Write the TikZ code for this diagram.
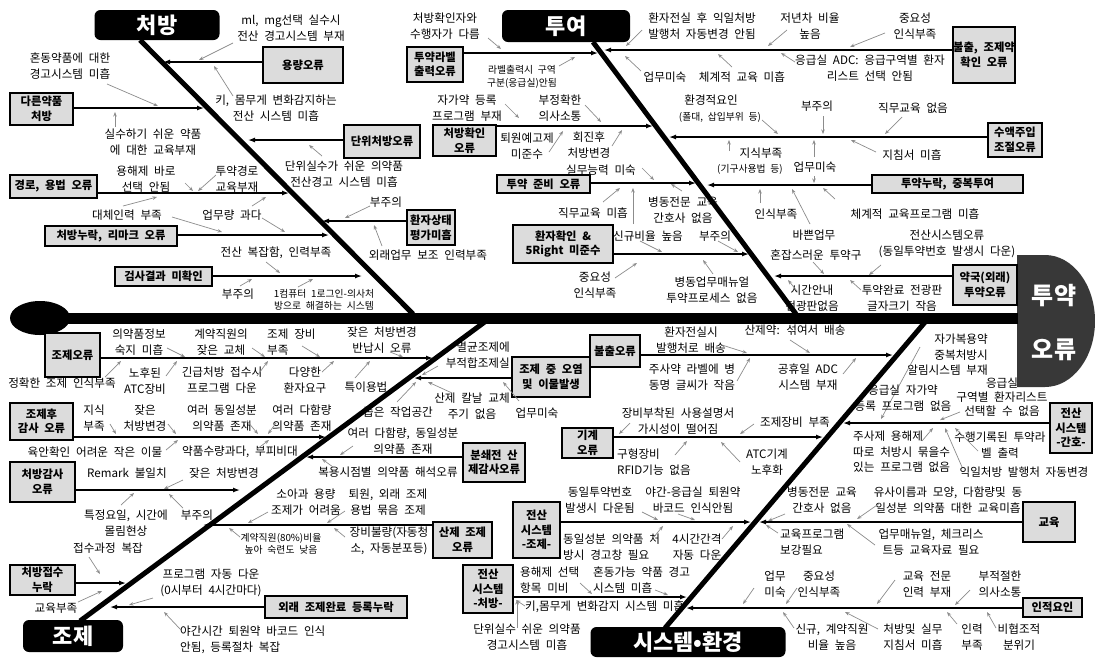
\documentclass[tikz,border=0pt]{standalone}
\usepackage{fontspec}
\setmainfont{Noto Sans CJK KR}[WordSpace=2.2]
\usetikzlibrary{arrows.meta}
\definecolor{boxgray}{HTML}{DCDCDC}
\definecolor{headgray}{HTML}{383838}
\definecolor{arrgray}{HTML}{8C8C8C}
\tikzset{
  cat/.style={fill=black, rounded corners=6pt, text=white, font=\fontsize{22}{22}\selectfont\bfseries, inner sep=0pt},
  sbox/.style={draw=black, line width=1.7pt, fill=boxgray, font=\fontsize{11.3}{14.5}\selectfont\bfseries, align=center, inner sep=0pt},
  lab/.style={align=center, font=\fontsize{11.6}{15.5}\selectfont, inner sep=0pt},
  slab/.style={align=center, font=\fontsize{9.8}{12.5}\selectfont, inner sep=0pt},
  bigbone/.style={line width=5pt},
  bone/.style={line width=1.3pt, -{Latex[length=7pt,width=5pt]}},
  ga/.style={draw=arrgray, line width=0.7pt, -{Stealth[length=4.5pt,width=3.5pt]}},
}
\begin{document}
\begin{tikzpicture}[x=1pt,y=-1pt]
\useasboundingbox[fill=white] (0,0) rectangle (1095,657);

% ---------- spine, tail, head
\fill (40,318) ellipse [x radius=30pt, y radius=17pt];
\coordinate (tail) at (45,318);
\fill[headgray] (1017,255) -- (1045,255) arc[start angle=90,end angle=-90,x radius=50pt,y radius=66pt] -- (1017,387) -- cycle;
\coordinate (headW) at (1018,318);
\draw[line width=11pt] (tail) -- (headW);
\node[font=\fontsize{24}{24}\selectfont\bfseries, text=white] (h1) at (1054,296) {투약};
\node[font=\fontsize{24}{24}\selectfont\bfseries, text=white] (h2) at (1054,350) {오류};

% ---------- main bones
\coordinate (cpS) at (140,40); \coordinate (cpE) at (413,314);
\coordinate (tyS) at (593,42); \coordinate (tyE) at (796,314);
\coordinate (jjS) at (80,621); \coordinate (jjE) at (486,321);
\coordinate (seS) at (665,628); \coordinate (seE) at (926,321);
\draw[bigbone] (cpS) -- (cpE);
\draw[bigbone] (tyS) -- (tyE);
\draw[bigbone] (jjS) -- (jjE);
\draw[bigbone] (seS) -- (seE);

\node[cat, minimum width=125pt, minimum height=30pt] (cp) at (157,25) {처방};
\node[cat, minimum width=128pt, minimum height=32pt] (ty) at (566,26) {투여};
\node[cat, minimum width=100pt, minimum height=32pt] (jj) at (73,636) {조제};
\node[cat, minimum width=195pt, minimum height=30pt] (se) at (688,642) {시스템•환경};

% ---------- minor bones: coordinates
\coordinate (t1) at (163,62);
\coordinate (t2) at (204,108);
\coordinate (t3) at (248,140);
\coordinate (t4) at (289,193);
\coordinate (t5) at (329,235);
\coordinate (t6) at (322,221);
\coordinate (t7) at (362,276);
\coordinate (t8) at (598,53);
\coordinate (t9) at (653,126);
\coordinate (t10) at (696,183);
\coordinate (t11) at (749,254);
\coordinate (t12) at (604,50);
\coordinate (t13) at (669,137);
\coordinate (t14) at (707,185);
\coordinate (t15) at (774,276);
\coordinate (t16) at (433,358);
\coordinate (t17) at (414,378);
\coordinate (t18) at (893,355);
\coordinate (t19) at (326,437);
\coordinate (t20) at (306,457);
\coordinate (t21) at (240,490);
\coordinate (t22) at (203,525);
\coordinate (t23) at (126,583);
\coordinate (t24) at (110,607);
\coordinate (t25) at (823,437);
\coordinate (t26) at (843,423);
\coordinate (t27) at (751,522);
\coordinate (t28) at (759,522);
\coordinate (t29) at (687,597);
\coordinate (t30) at (686,608);

% ---------- boxes
\node[sbox,minimum width=80pt,minimum height=36pt] (b1) at (303,65) {용량오류};
\node[sbox,minimum width=63pt,minimum height=32pt] (b2) at (41.5,109) {다른약품\\처방};
\node[sbox,minimum width=76pt,minimum height=33pt] (b3) at (382,141.5) {단위처방오류};
\node[sbox,minimum width=87pt,minimum height=23pt] (b4) at (53.5,186.5) {경로, 용법 오류};
\node[sbox,minimum width=132pt,minimum height=20pt] (b5) at (111,236) {처방누락, 리마크 오류};
\node[sbox,minimum width=48pt,minimum height=35pt] (b6) at (431,227.5) {환자상태\\평가미흡};
\node[sbox,minimum width=97pt,minimum height=19pt] (b7) at (163.5,276.5) {검사결과 미확인};
\node[sbox,minimum width=56pt,minimum height=35pt] (b8) at (435,64.5) {투약라벨\\출력오류};
\node[sbox,minimum width=63pt,minimum height=31pt] (b9) at (464.5,140.5) {처방확인\\오류};
\node[sbox,minimum width=93pt,minimum height=18pt] (b10) at (543.5,184) {투약 준비 오류};
\node[sbox,minimum width=100pt,minimum height=38pt] (b11) at (563,244) {환자확인 \&\\5Right 미준수};
\node[sbox,minimum width=62pt,minimum height=56pt] (b12) at (984,55) {불출, 조제약\\확인 오류};
\node[sbox,minimum width=54pt,minimum height=34pt] (b13) at (1015,140) {수액주입\\조절오류};
\node[sbox,minimum width=151pt,minimum height=18pt] (b14) at (947.5,184) {투약누락, 중복투여};
\node[sbox,minimum width=64pt,minimum height=40pt] (b15) at (985,285) {약국(외래)\\투약오류};
\node[sbox,minimum width=55pt,minimum height=44pt] (b16) at (72.5,355) {조제오류};
\node[sbox,minimum width=78pt,minimum height=40pt] (b17) at (551,377) {조제 중 오염\\및 이물발생};
\node[sbox,minimum width=50pt,minimum height=32pt] (b18) at (615,351) {불출오류};
\node[sbox,minimum width=63pt,minimum height=37pt] (b19) at (41.5,421.5) {조제후\\감사 오류};
\node[sbox,minimum width=62pt,minimum height=39pt] (b20) at (494,462.5) {분쇄전 산\\제감사오류};
\node[sbox,minimum width=65pt,minimum height=40pt] (b21) at (42.5,482) {처방감사\\오류};
\node[sbox,minimum width=59pt,minimum height=36pt] (b22) at (462.5,540) {산제 조제\\오류};
\node[sbox,minimum width=65pt,minimum height=30pt] (b23) at (42.5,580) {처방접수\\누락};
\node[sbox,minimum width=142pt,minimum height=22pt] (b24) at (336,607) {외래 조제완료 등록누락};
\node[sbox,minimum width=51pt,minimum height=30pt] (b25) at (587.5,443) {기계\\오류};
\node[sbox,minimum width=42pt,minimum height=50pt] (b26) at (1071,428) {전산\\시스템\\-간호-};
\node[sbox,minimum width=47pt,minimum height=56pt] (b27) at (536.5,530) {전산\\시스템\\-조제-};
\node[sbox,minimum width=52pt,minimum height=40pt] (b28) at (1049,522) {교육};
\node[sbox,minimum width=50pt,minimum height=48pt] (b29) at (488,589) {전산\\시스템\\-처방-};
\node[sbox,minimum width=59pt,minimum height=19pt] (b30) at (1052.5,607.5) {인적요인};

% ---------- minor bones
\draw[bone] (b1.west|-t1) -- (t1);
\draw[bone] (b2.east|-t2) -- (t2);
\draw[bone] (b3.west|-t3) -- (t3);
\draw[bone] (b4.east|-t4) -- (t4);
\draw[bone] (b5.east|-t5) -- (t5);
\draw[bone] (b6.west|-t6) -- (t6);
\draw[bone] (b7.east|-t7) -- (t7);
\draw[bone] (b8.east|-t8) -- (t8);
\draw[bone] (b9.east|-t9) -- (t9);
\draw[bone] (b10.east|-t10) -- (t10);
\draw[bone] (b11.east|-t11) -- (t11);
\draw[bone] (b12.west|-t12) -- (t12);
\draw[bone] (b13.west|-t13) -- (t13);
\draw[bone] (b14.west|-t14) -- (t14);
\draw[bone] (b15.west|-t15) -- (t15);
\draw[bone] (b16.east|-t16) -- (t16);
\draw[bone] (b17.west|-t17) -- (t17);
\draw[bone] (b18.east|-t18) -- (t18);
\draw[bone] (b19.east|-t19) -- (t19);
\draw[bone] (b20.west|-t20) -- (t20);
\draw[bone] (b21.east|-t21) -- (t21);
\draw[bone] (b22.west|-t22) -- (t22);
\draw[bone] (b23.east|-t23) -- (t23);
\draw[bone] (b24.west|-t24) -- (t24);
\draw[bone] (b25.east|-t25) -- (t25);
\draw[bone] (b26.west|-t26) -- (t26);
\draw[bone] (b27.east|-t27) -- (t27);
\draw[bone] (b28.west|-t28) -- (t28);
\draw[bone] (b29.east|-t29) -- (t29);
\draw[bone] (b30.west|-t30) -- (t30);

% ---------- labels: 처방
\node[lab] (l1) at (291,28) {ml, mg선택 실수시\\전산 경고시스템 부재};
\draw[ga] (233,43) -- (199,60);
\node[lab] (l2) at (276,108) {키, 몸무게 변화감지하는\\전산 시스템 미흡};
\draw[ga] (233,96) -- (214,66);
\node[lab] (l3) at (70,66) {혼동약품에 대한\\경고시스템 미흡};
\draw[ga] (107,84) -- (158,106);
\node[lab] (l4) at (153,142) {실수하기 쉬운 약품\\에 대한 교육부재};
\draw[ga] (115,127) -- (115,112);
\node[lab] (l5) at (344,174) {단위실수가 쉬운 의약품\\전산경고 시스템 미흡};
\draw[ga] (322,156) -- (309,145);
\node[lab] (l6) at (146,179) {용해제 바로\\선택 안됨};
\draw[ga] (185,183) -- (193,191);
\node[lab] (l7) at (237,179) {투약경로\\교육부재};
\draw[ga] (216,175) -- (198,191);
\node[lab] (l8) at (127,215) {대체인력 부족};
\draw[ga] (123,206) -- (157,197);
\draw[ga] (172,217) -- (222,232);
\node[lab] (l9) at (232,215) {업무량 과다};
\draw[ga] (252,206) -- (266,197);
\draw[ga] (262,218) -- (285,232);
\node[lab] (l10) at (386,202) {부주의};
\draw[ga] (370,206) -- (345,218);
\node[lab] (l11) at (428,255) {외래업무 보조 인력부족};
\draw[ga] (382,246) -- (374,225);
\node[lab] (l12) at (276,253) {전산 복잡함, 인력부족};
\draw[ga] (266,262) -- (280,273);
\node[lab] (l13) at (238,294) {부주의};
\draw[ga] (240,286) -- (252,279);
\node[slab] (l14) at (324,300) {1컴퓨터 1로그인-의사처\\방으로 해결하는 시스템};
\draw[ga] (298,287) -- (313,279);

% ---------- labels: 투여
\node[lab] (l15) at (445,26) {처방확인자와\\수행자가 다름};
\draw[ga] (488,38) -- (501,49);
\node[slab] (l16) at (522,77) {라벨출력시 구역\\구분(응급실)안됨};
\draw[ga] (559,66) -- (575,57);
\node[lab] (l17) at (467,108) {자가약 등록\\프로그램 부재};
\draw[ga] (505,104) -- (519,118);
\node[lab] (l18) at (560,108) {부정확한\\의사소통};
\draw[ga] (585,105) -- (601,122);
\node[lab] (l19) at (527,146) {퇴원예고제\\미준수};
\draw[ga] (549,152) -- (563,131);
\node[lab] (l20) at (589,145) {회진후\\처방변경};
\draw[ga] (612,146) -- (622,130);
\node[lab] (l21) at (601,170) {실무능력 미숙};
\draw[ga] (642,168) -- (654,180);
\node[lab] (l22) at (593,213) {직무교육 미흡};
\draw[ga] (603,202) -- (620,188);
\draw[ga] (633,224) -- (633,188);
\node[lab] (l23) at (683,210) {병동전문 교육\\간호사 없음};
\draw[ga] (682,191) -- (671,184);
\node[lab] (l24) at (648,236) {신규비율 높음};
\draw[ga] (640,241) -- (662,252);
\node[lab] (l25) at (715,236) {부주의};
\draw[ga] (718,241) -- (738,252);
\node[lab] (l26) at (595,285) {중요성\\인식부족};
\draw[ga] (615,278) -- (637,263);
\node[lab] (l27) at (712,290) {병동업무매뉴얼\\투약프로세스 없음};
\draw[ga] (713,274) -- (703,260);
\node[lab] (l28) at (702,26) {환자전실 후 익일처방\\발행처 자동변경 안됨};
\draw[ga] (642,30) -- (626,46);
\node[lab] (l29) at (810,26) {저년차 비율\\높음};
\draw[ga] (787,30) -- (768,46);
\node[lab] (l30) at (915,26) {중요성\\인식부족};
\draw[ga] (885,33) -- (850,47);
\node[lab] (l31) at (665,77) {업무미숙};
\draw[ga] (641,71) -- (625,56);
\node[lab] (l32) at (742,77) {체계적 교육 미흡};
\draw[ga] (732,67) -- (718,54);
\node[lab] (l33) at (870,68) {응급실 ADC: 응급구역별 환자\\리스트 선택 안됨};
\draw[ga] (795,62) -- (781,53);
\node[lab] (l34) at (711,100) {환경적요인};
\node[slab] (l35) at (720,117) {(폴대, 삽입부위 등)};
\draw[ga] (762,120) -- (778,134);
\node[lab] (l36) at (817,106) {부주의};
\draw[ga] (823,116) -- (823,134);
\node[lab] (l37) at (913,108) {직무교육 없음};
\draw[ga] (902,117) -- (885,134);
\node[lab] (l38) at (912,155) {지침서 미흡};
\draw[ga] (876,152) -- (851,140);
\node[lab] (l39) at (761,153) {지식부족};
\node[slab] (l40) at (750,169) {(기구사용법 등)};
\draw[ga] (729,151) -- (729,140);
\node[lab] (l41) at (815,167) {업무미숙};
\draw[ga] (814,157) -- (814,140);
\draw[ga] (814,176) -- (814,183);
\node[lab] (l42) at (776,214) {인식부족};
\draw[ga] (760,203) -- (760,189);
\node[lab] (l43) at (915,214) {체계적 교육프로그램 미흡};
\draw[ga] (835,199) -- (823,188);
\node[lab] (l44) at (814,235) {바쁜업무};
\draw[ga] (810,224) -- (792,189);
\node[lab] (l45) at (816,255) {혼잡스러운 투약구};
\draw[ga] (813,262) -- (824,274);
\node[lab] (l46) at (947,244) {전산시스템오류\\(동일투약번호 발생시 다운)};
\draw[ga] (881,265) -- (869,275);
\node[lab] (l47) at (812,298) {시간안내\\전광판없음};
\draw[ga] (797,291) -- (788,280);
\node[lab] (l48) at (902,298) {투약완료 전광판\\글자크기 작음};
\draw[ga] (861,290) -- (850,280);

% ---------- labels: 조제
\node[lab] (l49) at (139,342) {의약품정보\\숙지 미흡};
\draw[ga] (167,348) -- (185,357);
\node[lab] (l50) at (221,342) {계약직원의\\잦은 교체};
\draw[ga] (252,348) -- (265,357);
\node[lab, align=left, anchor=west] (l51) at (267,342) {조제 장비\\부족};
\draw[ga] (302,346) -- (320,357);
\node[lab] (l52) at (382,340) {잦은 처방변경\\반납시 오류};
\draw[ga] (390,352) -- (403,357);
\node[lab] (l53) at (62,383) {정확한 조제 인식부족};
\draw[ga] (105,377) -- (121,361);
\node[lab] (l54) at (145,381) {노후된\\ATC장비};
\draw[ga] (166,376) -- (177,361);
\node[lab] (l55) at (222,380) {긴급처방 접수시\\프로그램 다운};
\draw[ga] (257,376) -- (268,361);
\node[lab] (l56) at (305,380) {다양한\\환자요구};
\draw[ga] (322,372) -- (334,361);
\node[lab] (l57) at (366,387) {특이용법};
\draw[ga] (355,378) -- (370,361);
\node[lab, align=right, anchor=east] (l58) at (510,355) {멸균조제에\\부적합조제실};
\draw[ga] (438,366) -- (422,375);
\node[lab] (l59) at (472,406) {산제 칼날 교체\\주기 없음};
\draw[ga] (452,393) -- (428,382);
\node[lab] (l60) at (398,412) {좁은 작업공간};
\draw[ga] (397,402) -- (416,382);
\node[lab] (l61) at (537,413) {업무미숙};
\draw[ga] (519,401) -- (503,382);
\node[lab] (l62) at (691,340) {환자전실시\\발행처로 배송};
\draw[ga] (722,345) -- (747,353);
\node[lab] (l63) at (795,330) {산제약: 섞여서 배송};
\draw[ga] (790,340) -- (810,353);
\node[lab] (l64) at (692,377) {주사약 라벨에 병\\동명 글씨가 작음};
\draw[ga] (737,381) -- (750,358);
\node[lab] (l65) at (808,377) {공휴일 ADC\\시스템 부재};
\draw[ga] (843,374) -- (856,358);
\node[lab] (l66) at (94,418) {지식\\부족};
\draw[ga] (110,424) -- (116,434);
\node[lab] (l67) at (145,418) {잦은\\처방변경};
\draw[ga] (168,424) -- (176,434);
\node[lab] (l68) at (222,418) {여러 동일성분\\의약품 존재};
\draw[ga] (247,421) -- (258,434);
\node[lab] (l69) at (302,418) {여러 다함량\\의약품 존재};
\draw[ga] (276,423) -- (268,434);
\node[lab] (l70) at (95,452) {육안확인 어려운 작은 이물};
\draw[ga] (166,450) -- (178,440);
\node[lab] (l71) at (240,452) {약품수량과다, 부피비대};
\draw[ga] (257,449) -- (269,440);
\node[lab] (l72) at (403,441) {여러 다함량, 동일성분\\의약품 존재};
\draw[ga] (353,446) -- (340,455);
\node[lab] (l73) at (388,472) {복용시점별 의약품 해석오류};
\draw[ga] (333,467) -- (322,459);
\node[lab] (l74) at (127,473) {Remark 불일치};
\node[lab] (l75) at (224,473) {잦은 처방변경};
\draw[ga] (183,480) -- (164,489);
\node[lab] (l76) at (126,523) {특정요일, 시간에\\몰림현상};
\draw[ga] (121,505) -- (134,493);
\node[lab] (l77) at (197,515) {부주의};
\draw[ga] (183,508) -- (169,494);
\node[lab] (l78) at (306,502) {소아과 용량\\조제가 어려움};
\draw[ga] (268,512) -- (248,523);
\node[lab] (l79) at (388,502) {퇴원, 외래 조제\\용법 묶음 조제};
\draw[ga] (345,511) -- (327,523);
\node[slab] (l80) at (281,544) {계약직원(80\%)비율\\높아 숙련도 낮음};
\draw[ga] (240,537) -- (229,528);
\node[lab] (l81) at (389,541) {장비불량(자동청\\소, 자동분포등)};
\draw[ga] (345,537) -- (334,528);
\node[lab] (l82) at (108,548) {접수과정 복잡};
\draw[ga] (89,557) -- (100,574);
\node[lab] (l83) at (56,608) {교육부족};
\draw[ga] (78,602) -- (102,591);
\node[lab] (l84) at (211,583) {프로그램 자동 다운\\(0시부터 4시간마다)};
\draw[ga] (153,598) -- (129,605);
\node[lab, align=left, anchor=west] (l85) at (180,640) {야간시간 퇴원약 바코드 인식\\안됨, 등록절차 복잡};
\draw[ga] (181,630) -- (164,612);

% ---------- labels: 시스템·환경
\node[lab] (l86) at (678,421) {장비부착된 사용설명서\\가시성이 떨어짐};
\draw[ga] (630,423) -- (619,434);
\node[lab] (l87) at (795,422) {조제장비 부족};
\draw[ga] (754,424) -- (740,434);
\node[lab, align=left, anchor=west] (l88) at (617,462) {구형장비\\RFID기능 없음};
\draw[ga] (675,455) -- (687,441);
\node[lab] (l89) at (767,462) {ATC기계\\노후화};
\draw[ga] (740,462) -- (721,442);
\node[lab, align=right, anchor=east] (l90) at (988,355) {자가복용약\\중복처방시\\알림시스템 부재};
\draw[ga] (920,347) -- (881,419);
\node[lab] (l91) at (903,398) {응급실 자가약\\등록 프로그램 없음};
\node[lab, font=\fontsize{11.6}{14}\selectfont] (l92) at (1002,397) {응급실\\구역별 환자리스트\\선택할 수 없음};
\draw[ga] (960,412) -- (940,420);
\node[lab, align=left, anchor=west] (l93) at (853,452) {주사제 용해제\\따로 처방시 묶을수\\있는 프로그램 없음};
\draw[ga] (922,441) -- (933,428);
\node[lab] (l94) at (1000,445) {수행기록된 투약라\\벨 출력};
\draw[ga] (978,451) -- (955,428);
\node[lab] (l95) at (1024,472) {익일처방 발행처 자동변경};
\draw[ga] (962,467) -- (945,428);
\node[lab] (l96) at (600,500) {동일투약번호\\발생시 다운됨};
\draw[ga] (642,512) -- (658,520);
\node[lab] (l97) at (693,500) {야간-응급실 퇴원약\\바코드 인식안됨};
\draw[ga] (678,514) -- (695,520);
\node[lab, align=left, anchor=west] (l98) at (563,547) {동일성분 의약품 처\\방시 경고창 필요};
\draw[ga] (653,538) -- (663,526);
\node[lab] (l99) at (697,547) {4시간간격\\자동 다운};
\draw[ga] (722,539) -- (733,526);
\node[lab] (l100) at (822,500) {병동전문 교육\\간호사 없음};
\draw[ga] (785,514) -- (768,521);
\node[lab] (l101) at (948,500) {유사이름과 모양, 다함량및 동\\일성분 의약품 대한 교육미흡};
\draw[ga] (880,503) -- (857,519);
\node[lab, align=left, anchor=west] (l102) at (780,542) {교육프로그램\\보강필요};
\draw[ga] (778,533) -- (766,525);
\node[lab] (l103) at (931,542) {업무매뉴얼, 체크리스\\트등 교육자료 필요};
\draw[ga] (875,545) -- (847,524);
\node[lab, align=left, anchor=west] (l104) at (520,580) {용해제 선택\\항목 미비};
\draw[ga] (580,583) -- (592,594);
\node[lab, align=left, anchor=west] (l105) at (593,580) {혼동가능 약품 경고\\시스템 미흡};
\draw[ga] (655,590) -- (668,595);
\node[lab, anchor=west] (l106) at (525,607) {키,몸무게 변화감지 시스템 미흡};
\draw[ga] (525,606) -- (516,600);
\node[lab] (l107) at (527,637) {단위실수 쉬운 의약품\\경고시스템 미흡};
\draw[ga] (517,628) -- (517,600);
\node[lab] (l108) at (775,584) {업무\\미숙};
\draw[ga] (754,588) -- (743,604);
\node[lab] (l109) at (819,584) {중요성\\인식부족};
\draw[ga] (797,588) -- (786,604);
\node[lab] (l110) at (927,584) {교육 전문\\인력 부재};
\draw[ga] (895,580) -- (877,604);
\node[lab] (l111) at (1000,584) {부적절한\\의사소통};
\draw[ga] (970,590) -- (955,605);
\node[lab] (l112) at (832,637) {신규, 계약직원\\비율 높음};
\draw[ga] (794,628) -- (783,612);
\node[lab] (l113) at (913,637) {처방및 실무\\지침서 미흡};
\draw[ga] (878,629) -- (845,612);
\node[lab] (l114) at (972,637) {인력\\부족};
\draw[ga] (957,624) -- (947,612);
\node[lab] (l115) at (1019,637) {비협조적\\분위기};
\draw[ga] (996,628) -- (987,612);
\end{tikzpicture}
\end{document}
